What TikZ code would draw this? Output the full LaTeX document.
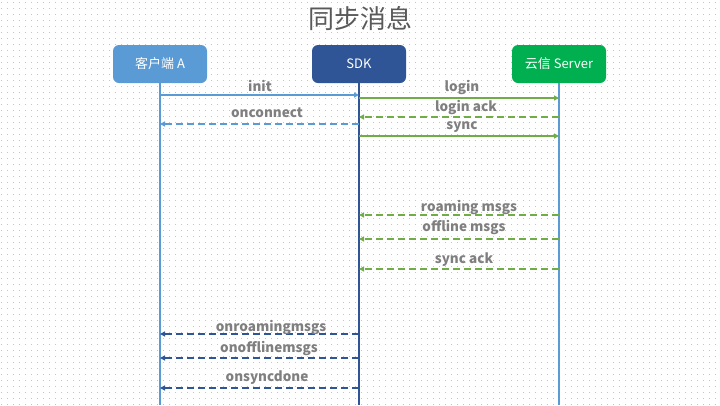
\documentclass[tikz,border=0pt]{standalone}
\usepackage{fontspec}
\setmainfont{Noto Sans CJK SC}
\usetikzlibrary{arrows.meta}
\definecolor{cA}{HTML}{5B9BD5}
\definecolor{cSDK}{HTML}{2F5597}
\definecolor{cSrv}{HTML}{00B050}
\definecolor{cGreen}{HTML}{70AD47}
\definecolor{cLbl}{HTML}{7F7F7F}
\definecolor{cTitle}{HTML}{595959}
\definecolor{cDot}{HTML}{A6CBEE}
\tikzset{
  actor/.style={rounded corners=6pt, minimum width=94pt, minimum height=38pt, inner sep=0pt, text=white, font=\fontsize{13}{15}\selectfont},
  life/.style={line width=2pt},
  msg/.style={line width=2pt, -{Triangle[length=5pt,width=5pt]}},
  ret/.style={msg, dash pattern=on 7pt off 4pt},
  lbl/.style={text=cLbl, font=\fontsize{13.5}{15}\selectfont\bfseries, inner sep=0pt},
}
\begin{document}
\begin{tikzpicture}[x=1pt,y=-1pt]
\useasboundingbox (0,0) rectangle (720,405);
\fill[white] (0,0) rectangle (720,405);
\foreach \yy in {2,8,...,404} {
  \draw[cDot, line width=1pt, dash pattern=on 1pt off 5pt] (1,\yy) -- (720,\yy);
}
\node[text=cTitle, font=\fontsize{26}{30}\selectfont] (title) at (360,19) {同步消息};
\node[actor, fill=cA] (ca) at (160,64) {客户端 A};
\node[actor, fill=cSDK] (sdk) at (359,64) {SDK};
\node[actor, fill=cSrv] (srv) at (559,64) {云信 Server};
\coordinate (caEnd) at (160,405);
\coordinate (sdkEnd) at (359,405);
\coordinate (srvEnd) at (559,405);
\draw[life, cA] (ca.south) -- (caEnd);
\draw[life, cSDK] (sdk.south) -- (sdkEnd);
\draw[life, cA] (srv.south) -- (srvEnd);
% messages
\draw[msg, cA] (ca.south |- 0,95) -- (sdk.south |- 0,95);
\node[lbl] (l1) at (260,86) {init};
\draw[msg, cGreen] (sdk.south |- 0,98) -- (srv.south |- 0,98);
\node[lbl] (l2) at (462,88) {login};
\draw[ret, cGreen] (srv.south |- 0,117) -- (sdk.south |- 0,117);
\node[lbl] (l3) at (466,107) {login ack};
\draw[ret, cA] (sdk.south |- 0,124) -- (ca.south |- 0,124);
\node[lbl] (l4) at (267,113) {onconnect};
\draw[msg, cGreen] (sdk.south |- 0,136) -- (srv.south |- 0,136);
\node[lbl] (l5) at (462,127) {sync};
\draw[ret, cGreen] (srv.south |- 0,215) -- (sdk.south |- 0,215);
\node[lbl] (l6) at (469,207) {roaming msgs};
\draw[ret, cGreen] (srv.south |- 0,239) -- (sdk.south |- 0,239);
\node[lbl] (l7) at (464,227) {offline msgs};
\draw[ret, cGreen] (srv.south |- 0,269) -- (sdk.south |- 0,269);
\node[lbl] (l8) at (464,260) {sync ack};
\draw[ret, cSDK] (sdk.south |- 0,334) -- (ca.south |- 0,334);
\node[lbl] (l9) at (271,327) {onroamingmsgs};
\draw[ret, cSDK] (sdk.south |- 0,358) -- (ca.south |- 0,358);
\node[lbl] (l10) at (269,348) {onofflinemsgs};
\draw[ret, cSDK] (sdk.south |- 0,388) -- (ca.south |- 0,388);
\node[lbl] (l11) at (267,378) {onsyncdone};
\end{tikzpicture}
\end{document}
